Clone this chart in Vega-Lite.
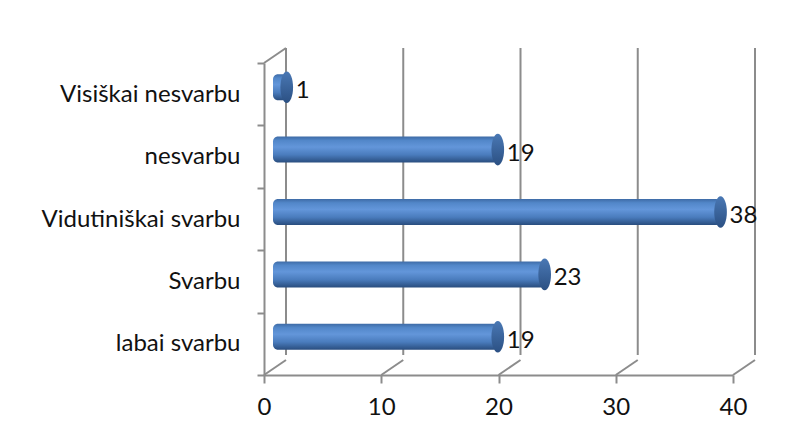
{
  "$schema": "https://vega.github.io/schema/vega-lite/v6.json",
  "autosize": {"type": "none"},
  "width": 469,
  "height": 312,
  "padding": {"left": 264, "top": 63, "right": 65, "bottom": 66},
  "background": "white",
  "config": {
    "view": {"stroke": null},
    "font": "Lato",
    "axis": {"labelFont": "Lato", "labelFontSize": 24, "labelColor": "#111111", "domainColor": "#8c8c8c", "domainWidth": 2, "tickColor": "#8c8c8c", "tickWidth": 2, "grid": false, "title": null, "labelLimit": 400}
  },
  "datasets": {
    "answers": [
      {"category": "Visiškai nesvarbu", "count": 1},
      {"category": "nesvarbu", "count": 19},
      {"category": "Vidutiniškai svarbu", "count": 38},
      {"category": "Svarbu", "count": 23},
      {"category": "labai svarbu", "count": 19}
    ],
    "grid": [{"v": 0}, {"v": 10}, {"v": 20}, {"v": 30}, {"v": 40}]
  },
  "resolve": {"scale": {"y": "independent"}, "axis": {"y": "independent"}},
  "layer": [
    {
      "data": {"name": "grid"},
      "mark": {"type": "rule", "color": "#8c8c8c", "strokeWidth": 2, "xOffset": 22, "yOffset": -15, "y2Offset": -20},
      "encoding": {
        "x": {"field": "v", "type": "quantitative", "scale": {"domain": [0, 40]}, "axis": {"values": [0, 10, 20, 30, 40], "tickSize": 8, "labelPadding": 12, "labelFlush": false}},
        "y": {"datum": 1, "type": "quantitative", "scale": {"domain": [0, 1]}, "axis": null},
        "y2": {"datum": 0}
      }
    },
    {
      "data": {"name": "grid"},
      "mark": {"type": "rule", "color": "#8c8c8c", "strokeWidth": 2, "y2Offset": -15, "x2Offset": 22},
      "encoding": {
        "x": {"field": "v", "type": "quantitative"},
        "x2": {"field": "v"},
        "y": {"datum": 0, "type": "quantitative", "scale": {"domain": [0, 1]}, "axis": null},
        "y2": {"datum": 0}
      }
    },
    {
      "data": {"values": [{"v": 0}]},
      "mark": {"type": "rule", "color": "#8c8c8c", "strokeWidth": 2, "y2Offset": -15, "x2Offset": 22},
      "encoding": {
        "x": {"field": "v", "type": "quantitative"},
        "x2": {"field": "v"},
        "y": {"datum": 1, "type": "quantitative", "scale": {"domain": [0, 1]}, "axis": null},
        "y2": {"datum": 1}
      }
    },
    {
      "data": {"name": "answers"},
      "mark": {
        "type": "bar", "height": 26, "yOffset": -7, "xOffset": 11, "x2Offset": 9, "cornerRadius": 5,
        "fill": {"gradient": "linear", "x1": 0, "y1": 0, "x2": 0, "y2": 1, "stops": [
          {"offset": 0, "color": "#3e6ba6"},
          {"offset": 0.15, "color": "#5287c9"},
          {"offset": 0.4, "color": "#6396da"},
          {"offset": 0.7, "color": "#4a7cbd"},
          {"offset": 1, "color": "#294d7e"}
        ]}
      },
      "encoding": {
        "y": {"field": "category", "type": "nominal", "sort": null, "scale": {"paddingInner": 0, "paddingOuter": 0}, "axis": {"tickBand": "extent", "tickSize": 7, "labelPadding": 17}},
        "x": {"field": "count", "type": "quantitative"},
        "x2": {"datum": 0}
      }
    },
    {
      "data": {"name": "answers"},
      "mark": {
        "type": "point", "filled": true, "size": 1000, "yOffset": -7, "xOffset": 11, "opacity": 1,
        "shape": "M 0 -1 A 0.4 1 0 1 1 0 1 A 0.4 1 0 1 1 0 -1 Z",
        "fill": {"gradient": "linear", "x1": 0, "y1": 0, "x2": 0, "y2": 1, "stops": [
          {"offset": 0, "color": "#4a78b4"},
          {"offset": 1, "color": "#2b5083"}
        ]},
        "stroke": null
      },
      "encoding": {
        "y": {"field": "category", "type": "nominal", "sort": null, "axis": null},
        "x": {"field": "count", "type": "quantitative"}
      }
    },
    {
      "data": {"name": "answers"},
      "mark": {"type": "text", "align": "left", "baseline": "middle", "dx": 20, "yOffset": -3, "fontSize": 24, "font": "Lato", "color": "#111111"},
      "encoding": {
        "y": {"field": "category", "type": "nominal", "sort": null, "axis": null},
        "x": {"field": "count", "type": "quantitative"},
        "text": {"field": "count", "type": "quantitative"}
      }
    }
  ]
}
